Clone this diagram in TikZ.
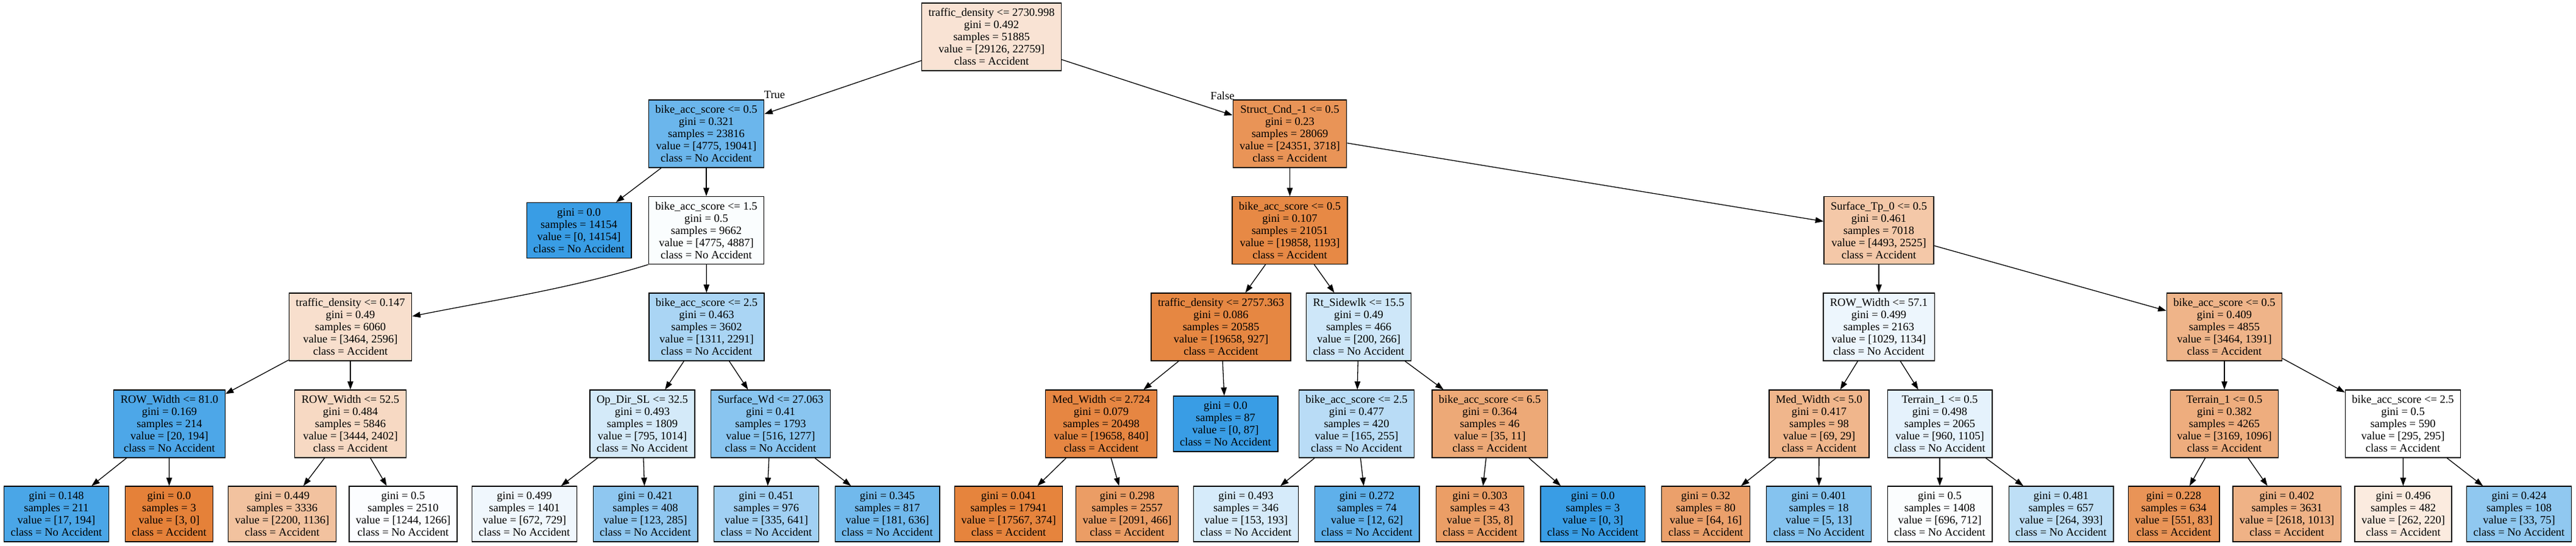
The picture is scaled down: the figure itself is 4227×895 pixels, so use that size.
\documentclass[tikz,border=0pt]{standalone}
\usepackage{fontspec}
\setmainfont{Liberation Serif}
\usetikzlibrary{arrows.meta}
\definecolor{cO}{RGB}{229,129,57}
\definecolor{cB}{RGB}{57,157,229}
\begin{document}
\begin{tikzpicture}[x=1pt,y=-1pt,
  box/.style={draw=black, line width=1.35pt, align=center, inner xsep=11pt, inner ysep=0pt,
    minimum height=111pt, font=\fontsize{18.5}{20}\selectfont},
  leaf/.style={box, minimum height=91pt},
  edge/.style={draw=black, line width=1.3pt, -{Triangle[length=13.5pt,width=9.5pt]}},
  elab/.style={font=\fontsize{18.5}{20}\selectfont, inner sep=0pt}]
\useasboundingbox (0,0) rectangle (4227,895);
\fill[white] (0,0) rectangle (4227,895);
% level 0
\node[box, fill=cO!21.9!white] (r) at (1627,60.5) {traffic\_density <= 2730.998\\gini = 0.492\\samples = 51885\\value = [29126, 22759]\\class = Accident};
% level 1
\node[box, fill=cB!74.9!white] (n1) at (1159,219.5) {bike\_acc\_score <= 0.5\\gini = 0.321\\samples = 23816\\value = [4775, 19041]\\class = No Accident};
\node[box, fill=cO!84.7!white] (n2) at (2116.5,219.5) {Struct\_Cnd\_-1 <= 0.5\\gini = 0.23\\samples = 28069\\value = [24351, 3718]\\class = Accident};
% level 2
\node[leaf, fill=cB] (l1) at (950,378) {gini = 0.0\\samples = 14154\\value = [0, 14154]\\class = No Accident};
\node[box, fill=cB!2.3!white] (n3) at (1159,378) {bike\_acc\_score <= 1.5\\gini = 0.5\\samples = 9662\\value = [4775, 4887]\\class = No Accident};
\node[box, fill=cO!94!white] (n4) at (2116.5,378) {bike\_acc\_score <= 0.5\\gini = 0.107\\samples = 21051\\value = [19858, 1193]\\class = Accident};
\node[box, fill=cO!43.8!white] (n5) at (3083,378) {Surface\_Tp\_0 <= 0.5\\gini = 0.461\\samples = 7018\\value = [4493, 2525]\\class = Accident};
% level 3
\node[box, fill=cO!25.1!white] (n6) at (575,536.5) {traffic\_density <= 0.147\\gini = 0.49\\samples = 6060\\value = [3464, 2596]\\class = Accident};
\node[box, fill=cB!42.8!white] (n7) at (1159.5,536.5) {bike\_acc\_score <= 2.5\\gini = 0.463\\samples = 3602\\value = [1311, 2291]\\class = No Accident};
\node[box, fill=cO!95.3!white] (n8) at (2003.5,536.5) {traffic\_density <= 2757.363\\gini = 0.086\\samples = 20585\\value = [19658, 927]\\class = Accident};
\node[box, fill=cB!24.8!white] (n9) at (2229.5,536.5) {Rt\_Sidewlk <= 15.5\\gini = 0.49\\samples = 466\\value = [200, 266]\\class = No Accident};
\node[box, fill=cB!9.3!white] (n10) at (3083,536.5) {ROW\_Width <= 57.1\\gini = 0.499\\samples = 2163\\value = [1029, 1134]\\class = No Accident};
\node[box, fill=cO!59.8!white] (n11) at (3650,536.5) {bike\_acc\_score <= 0.5\\gini = 0.409\\samples = 4855\\value = [3464, 1391]\\class = Accident};
% level 4
\node[box, fill=cB!89.7!white] (n12) at (278,695.5) {ROW\_Width <= 81.0\\gini = 0.169\\samples = 214\\value = [20, 194]\\class = No Accident};
\node[box, fill=cO!30.3!white] (n13) at (575,695.5) {ROW\_Width <= 52.5\\gini = 0.484\\samples = 5846\\value = [3444, 2402]\\class = Accident};
\node[box, fill=cB!21.6!white] (n14) at (1054,695.5) {Op\_Dir\_SL <= 32.5\\gini = 0.493\\samples = 1809\\value = [795, 1014]\\class = No Accident};
\node[box, fill=cB!59.6!white] (n15) at (1264.5,695.5) {Surface\_Wd <= 27.063\\gini = 0.41\\samples = 1793\\value = [516, 1277]\\class = No Accident};
\node[box, fill=cO!95.7!white] (n16) at (1807,695.5) {Med\_Width <= 2.724\\gini = 0.079\\samples = 20498\\value = [19658, 840]\\class = Accident};
\node[leaf, fill=cB] (l2) at (2011,695.5) {gini = 0.0\\samples = 87\\value = [0, 87]\\class = No Accident};
\node[box, fill=cB!35.3!white] (n17) at (2226,695.5) {bike\_acc\_score <= 2.5\\gini = 0.477\\samples = 420\\value = [165, 255]\\class = No Accident};
\node[box, fill=cO!68.6!white] (n18) at (2444.6,695.5) {bike\_acc\_score <= 6.5\\gini = 0.364\\samples = 46\\value = [35, 11]\\class = Accident};
\node[box, fill=cO!58!white] (n19) at (2985,695.5) {Med\_Width <= 5.0\\gini = 0.417\\samples = 98\\value = [69, 29]\\class = Accident};
\node[box, fill=cB!13.1!white] (n20) at (3183,695.5) {Terrain\_1 <= 0.5\\gini = 0.498\\samples = 2065\\value = [960, 1105]\\class = No Accident};
\node[box, fill=cO!65.4!white] (n21) at (3650,695.5) {Terrain\_1 <= 0.5\\gini = 0.382\\samples = 4265\\value = [3169, 1096]\\class = Accident};
\node[box, fill=white] (n22) at (3943,695.5) {bike\_acc\_score <= 2.5\\gini = 0.5\\samples = 590\\value = [295, 295]\\class = Accident};
% level 5
\node[leaf, fill=cB!91.2!white] (a1) at (92.5,843.5) {gini = 0.148\\samples = 211\\value = [17, 194]\\class = No Accident};
\node[leaf, fill=cO] (a2) at (277.5,843.5) {gini = 0.0\\samples = 3\\value = [3, 0]\\class = Accident};
\node[leaf, fill=cO!48.4!white] (a3) at (463,843.5) {gini = 0.449\\samples = 3336\\value = [2200, 1136]\\class = Accident};
\node[leaf, fill=cB!1.7!white] (a4) at (661.5,843.5) {gini = 0.5\\samples = 2510\\value = [1244, 1266]\\class = No Accident};
\node[leaf, fill=cB!7.8!white] (a5) at (860.5,843.5) {gini = 0.499\\samples = 1401\\value = [672, 729]\\class = No Accident};
\node[leaf, fill=cB!56.8!white] (a6) at (1059,843.5) {gini = 0.421\\samples = 408\\value = [123, 285]\\class = No Accident};
\node[leaf, fill=cB!47.7!white] (a7) at (1257.5,843.5) {gini = 0.451\\samples = 976\\value = [335, 641]\\class = No Accident};
\node[leaf, fill=cB!71.5!white] (a8) at (1456,843.5) {gini = 0.345\\samples = 817\\value = [181, 636]\\class = No Accident};
\node[leaf, fill=cO!97.9!white] (a9) at (1655,843.5) {gini = 0.041\\samples = 17941\\value = [17567, 374]\\class = Accident};
\node[leaf, fill=cO!77.7!white] (a10) at (1849.6,843.5) {gini = 0.298\\samples = 2557\\value = [2091, 466]\\class = Accident};
\node[leaf, fill=cB!20.7!white] (a11) at (2044.5,843.5) {gini = 0.493\\samples = 346\\value = [153, 193]\\class = No Accident};
\node[leaf, fill=cB!80.6!white] (a12) at (2243,843.5) {gini = 0.272\\samples = 74\\value = [12, 62]\\class = No Accident};
\node[leaf, fill=cO!77.1!white] (a13) at (2428.5,843.5) {gini = 0.303\\samples = 43\\value = [35, 8]\\class = Accident};
\node[leaf, fill=cB] (a14) at (2613.7,843.5) {gini = 0.0\\samples = 3\\value = [0, 3]\\class = No Accident};
\node[leaf, fill=cO!75!white] (a15) at (2799,843.5) {gini = 0.32\\samples = 80\\value = [64, 16]\\class = Accident};
\node[leaf, fill=cB!61.5!white] (a16) at (2984.6,843.5) {gini = 0.401\\samples = 18\\value = [5, 13]\\class = No Accident};
\node[leaf, fill=cB!2.2!white] (a17) at (3183,843.5) {gini = 0.5\\samples = 1408\\value = [696, 712]\\class = No Accident};
\node[leaf, fill=cB!32.8!white] (a18) at (3382,843.5) {gini = 0.481\\samples = 657\\value = [264, 393]\\class = No Accident};
\node[leaf, fill=cO!84.9!white] (a19) at (3567,843.5) {gini = 0.228\\samples = 634\\value = [551, 83]\\class = Accident};
\node[leaf, fill=cO!61.3!white] (a20) at (3752.6,843.5) {gini = 0.402\\samples = 3631\\value = [2618, 1013]\\class = Accident};
\node[leaf, fill=cO!16!white] (a21) at (3943.5,843.5) {gini = 0.496\\samples = 482\\value = [262, 220]\\class = Accident};
\node[leaf, fill=cB!56!white] (a22) at (4133.5,843.5) {gini = 0.424\\samples = 108\\value = [33, 75]\\class = No Accident};
% edge labels
\node[elab] (tT) at (1271,156) {True};
\node[elab] (tF) at (2006,157) {False};
% edges
\draw[edge] (r) -- (n1);
\draw[edge] (r) -- (n2);
\draw[edge] (n1) -- (l1);
\draw[edge] (n1) -- (n3);
\draw[edge] (n2) -- (n4);
\draw[edge] (n2) -- (n5);
\draw[edge] (n3.south west) .. controls +(-130,40) and +(130,-26) .. ([yshift=17.5pt]n6.east);
\draw[edge] (n3) -- (n7);
\draw[edge] (n4) -- (n8);
\draw[edge] (n4) -- (n9);
\draw[edge] (n5) -- (n10);
\draw[edge] (n5) -- (n11);
\draw[edge] (n6) -- (n12);
\draw[edge] (n6) -- (n13);
\draw[edge] (n7) -- (n14);
\draw[edge] (n7) -- (n15);
\draw[edge] (n8) -- (n16);
\draw[edge] (n8) -- (l2);
\draw[edge] (n9) -- (n17);
\draw[edge] (n9) -- (n18);
\draw[edge] (n10) -- (n19);
\draw[edge] (n10) -- (n20);
\draw[edge] (n11) -- (n21);
\draw[edge] (n11) -- (n22);
\draw[edge] (n12) -- (a1);
\draw[edge] (n12) -- (a2);
\draw[edge] (n13) -- (a3);
\draw[edge] (n13) -- (a4);
\draw[edge] (n14) -- (a5);
\draw[edge] (n14) -- (a6);
\draw[edge] (n15) -- (a7);
\draw[edge] (n15) -- (a8);
\draw[edge] (n16) -- (a9);
\draw[edge] (n16) -- (a10);
\draw[edge] (n17) -- (a11);
\draw[edge] (n17) -- (a12);
\draw[edge] (n18) -- (a13);
\draw[edge] (n18) -- (a14);
\draw[edge] (n19) -- (a15);
\draw[edge] (n19) -- (a16);
\draw[edge] (n20) -- (a17);
\draw[edge] (n20) -- (a18);
\draw[edge] (n21) -- (a19);
\draw[edge] (n21) -- (a20);
\draw[edge] (n22) -- (a21);
\draw[edge] (n22) -- (a22);
\end{tikzpicture}
\end{document}
